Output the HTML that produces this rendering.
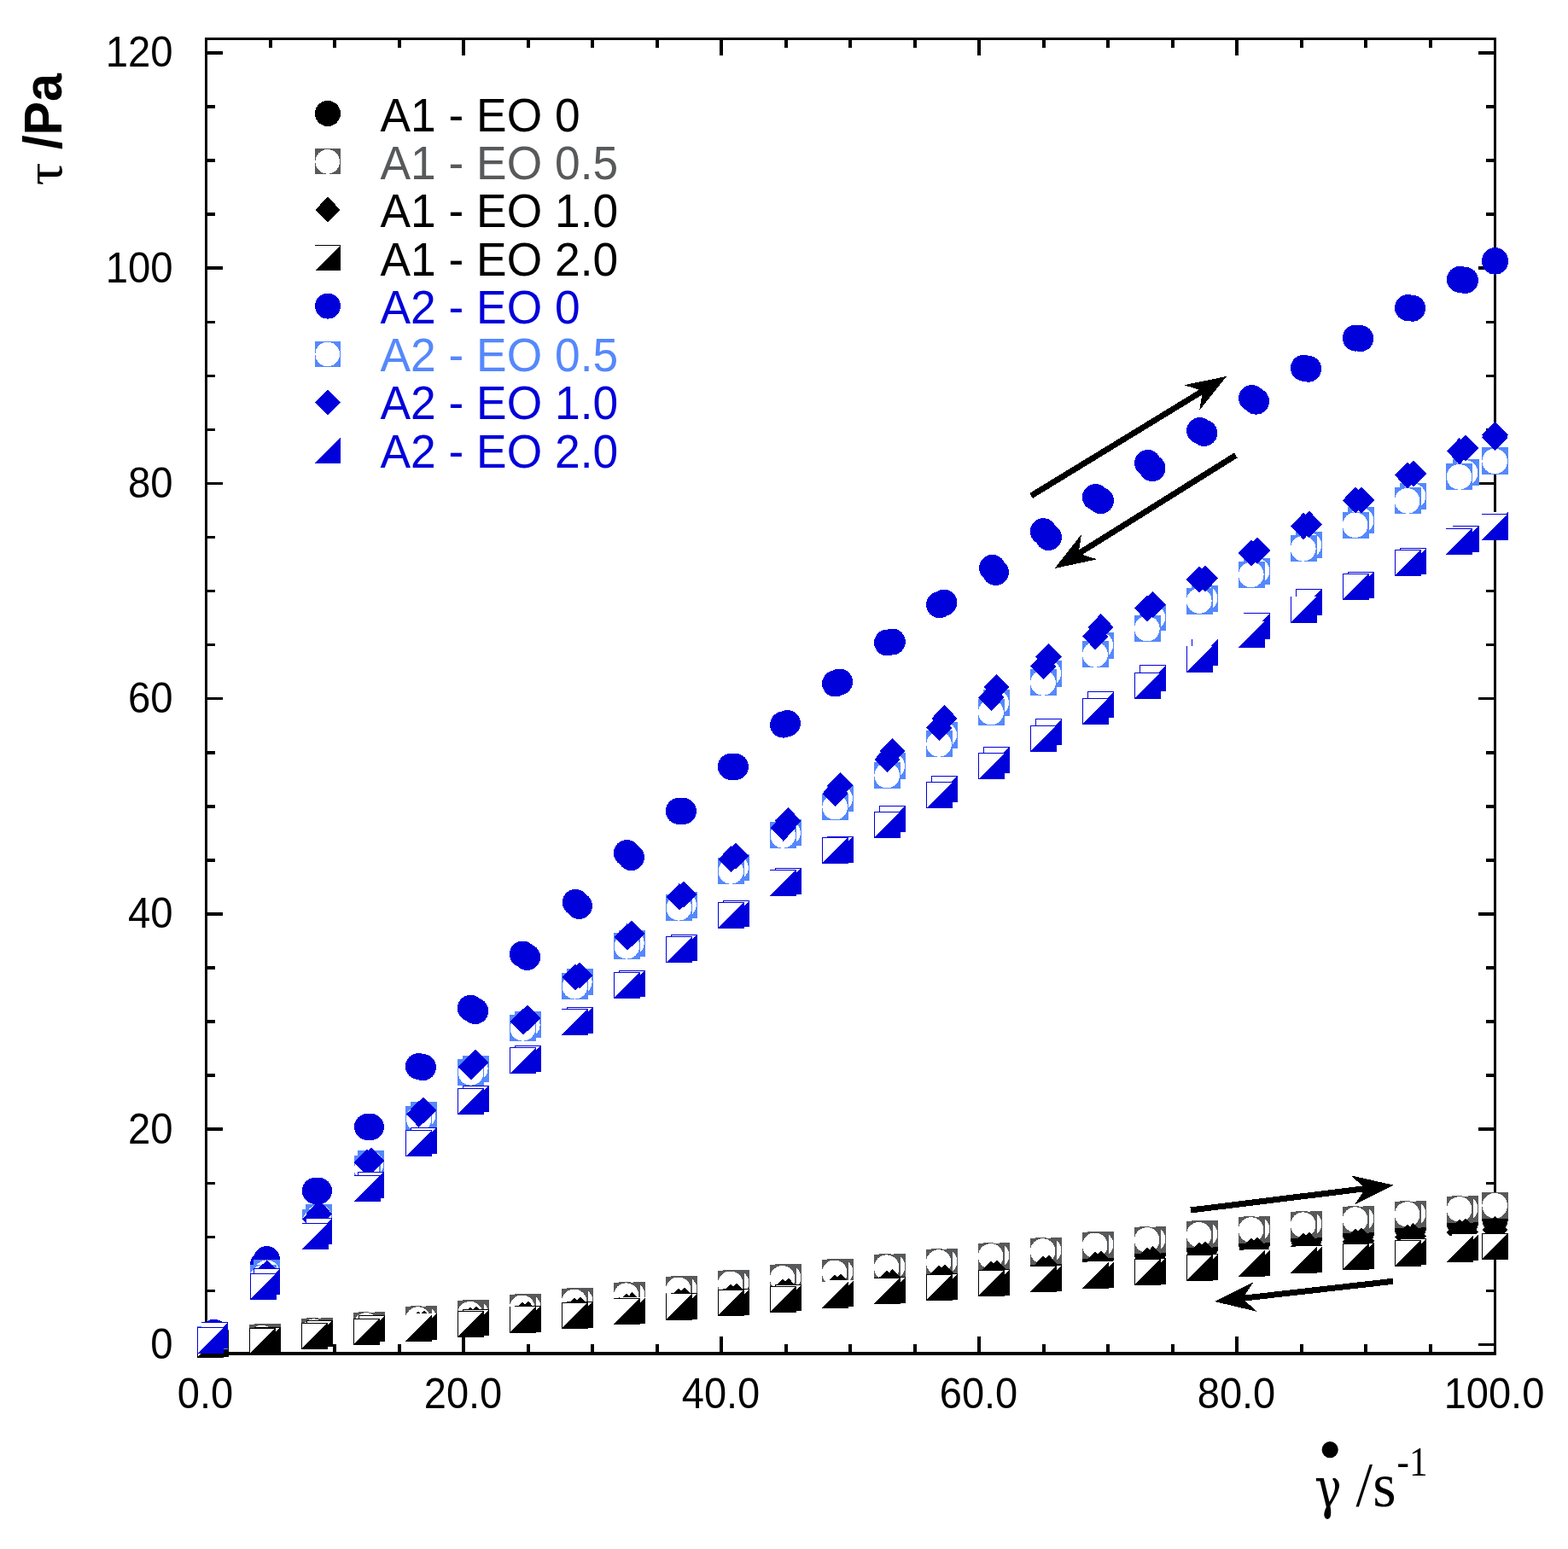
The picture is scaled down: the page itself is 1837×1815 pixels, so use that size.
<!DOCTYPE html>
<html lang="en"><head><meta charset="utf-8"><title>Flow curves</title>
<style>html,body{margin:0;padding:0;background:#fff;}body{width:1837px;height:1815px;overflow:hidden;}svg{display:block;}.t{font-family:"Liberation Sans",Arial,sans-serif;}.s{font-family:"Liberation Serif","Times New Roman",serif;}</style>
</head><body>
<svg width="1837" height="1815" viewBox="0 0 1837 1815">
<rect width="1837" height="1815" fill="#fff"/>
<g id="axes" fill="#000000" shape-rendering="crispEdges">
<rect x="240" y="44" width="1513" height="3"/>
<rect x="240" y="1584" width="1513" height="4"/>
<rect x="240" y="44" width="3" height="1544"/>
<rect x="1750" y="44" width="3" height="1544"/>
<rect x="243" y="1573.75" width="18" height="3.5"/>
<rect x="1732" y="1573.75" width="18" height="3.5"/>
<rect x="243" y="1510.68" width="9" height="3.5"/>
<rect x="1741" y="1510.68" width="9" height="3.5"/>
<rect x="243" y="1447.62" width="9" height="3.5"/>
<rect x="1741" y="1447.62" width="9" height="3.5"/>
<rect x="243" y="1384.56" width="9" height="3.5"/>
<rect x="1741" y="1384.56" width="9" height="3.5"/>
<rect x="243" y="1321.49" width="18" height="3.5"/>
<rect x="1732" y="1321.49" width="18" height="3.5"/>
<rect x="243" y="1258.42" width="9" height="3.5"/>
<rect x="1741" y="1258.42" width="9" height="3.5"/>
<rect x="243" y="1195.36" width="9" height="3.5"/>
<rect x="1741" y="1195.36" width="9" height="3.5"/>
<rect x="243" y="1132.3" width="9" height="3.5"/>
<rect x="1741" y="1132.3" width="9" height="3.5"/>
<rect x="243" y="1069.23" width="18" height="3.5"/>
<rect x="1732" y="1069.23" width="18" height="3.5"/>
<rect x="243" y="1006.16" width="9" height="3.5"/>
<rect x="1741" y="1006.16" width="9" height="3.5"/>
<rect x="243" y="943.1" width="9" height="3.5"/>
<rect x="1741" y="943.1" width="9" height="3.5"/>
<rect x="243" y="880.04" width="9" height="3.5"/>
<rect x="1741" y="880.04" width="9" height="3.5"/>
<rect x="243" y="816.97" width="18" height="3.5"/>
<rect x="1732" y="816.97" width="18" height="3.5"/>
<rect x="243" y="753.9" width="9" height="3.5"/>
<rect x="1741" y="753.9" width="9" height="3.5"/>
<rect x="243" y="690.84" width="9" height="3.5"/>
<rect x="1741" y="690.84" width="9" height="3.5"/>
<rect x="243" y="627.78" width="9" height="3.5"/>
<rect x="1741" y="627.78" width="9" height="3.5"/>
<rect x="243" y="564.71" width="18" height="3.5"/>
<rect x="1732" y="564.71" width="18" height="3.5"/>
<rect x="243" y="501.64" width="9" height="3.5"/>
<rect x="1741" y="501.64" width="9" height="3.5"/>
<rect x="243" y="438.58" width="9" height="3.5"/>
<rect x="1741" y="438.58" width="9" height="3.5"/>
<rect x="243" y="375.52" width="9" height="3.5"/>
<rect x="1741" y="375.52" width="9" height="3.5"/>
<rect x="243" y="312.45" width="18" height="3.5"/>
<rect x="1732" y="312.45" width="18" height="3.5"/>
<rect x="243" y="249.38" width="9" height="3.5"/>
<rect x="1741" y="249.38" width="9" height="3.5"/>
<rect x="243" y="186.32" width="9" height="3.5"/>
<rect x="1741" y="186.32" width="9" height="3.5"/>
<rect x="243" y="123.26" width="9" height="3.5"/>
<rect x="1741" y="123.26" width="9" height="3.5"/>
<rect x="243" y="60.19" width="18" height="3.5"/>
<rect x="1732" y="60.19" width="18" height="3.5"/>
<rect x="315" y="47" width="4" height="9"/>
<rect x="315" y="1575" width="4" height="9"/>
<rect x="390" y="47" width="4" height="9"/>
<rect x="390" y="1575" width="4" height="9"/>
<rect x="466" y="47" width="4" height="9"/>
<rect x="466" y="1575" width="4" height="9"/>
<rect x="541" y="47" width="4" height="18"/>
<rect x="541" y="1566" width="4" height="18"/>
<rect x="617" y="47" width="4" height="9"/>
<rect x="617" y="1575" width="4" height="9"/>
<rect x="692" y="47" width="4" height="9"/>
<rect x="692" y="1575" width="4" height="9"/>
<rect x="768" y="47" width="4" height="9"/>
<rect x="768" y="1575" width="4" height="9"/>
<rect x="843" y="47" width="4" height="18"/>
<rect x="843" y="1566" width="4" height="18"/>
<rect x="919" y="47" width="4" height="9"/>
<rect x="919" y="1575" width="4" height="9"/>
<rect x="994" y="47" width="4" height="9"/>
<rect x="994" y="1575" width="4" height="9"/>
<rect x="1070" y="47" width="4" height="9"/>
<rect x="1070" y="1575" width="4" height="9"/>
<rect x="1145" y="47" width="4" height="18"/>
<rect x="1145" y="1566" width="4" height="18"/>
<rect x="1221" y="47" width="4" height="9"/>
<rect x="1221" y="1575" width="4" height="9"/>
<rect x="1296" y="47" width="4" height="9"/>
<rect x="1296" y="1575" width="4" height="9"/>
<rect x="1372" y="47" width="4" height="9"/>
<rect x="1372" y="1575" width="4" height="9"/>
<rect x="1447" y="47" width="4" height="18"/>
<rect x="1447" y="1566" width="4" height="18"/>
<rect x="1523" y="47" width="4" height="9"/>
<rect x="1523" y="1575" width="4" height="9"/>
<rect x="1598" y="47" width="4" height="9"/>
<rect x="1598" y="1575" width="4" height="9"/>
<rect x="1674" y="47" width="4" height="9"/>
<rect x="1674" y="1575" width="4" height="9"/>
</g>
<g class="t" font-size="48" fill="#000000">
<text transform="translate(202.6 1591.9) scale(0.985 1.03)" text-anchor="end">0</text>
<text transform="translate(202.6 1339.6) scale(0.985 1.03)" text-anchor="end">20</text>
<text transform="translate(202.6 1087.4) scale(0.985 1.03)" text-anchor="end">40</text>
<text transform="translate(202.6 835.1) scale(0.985 1.03)" text-anchor="end">60</text>
<text transform="translate(202.6 582.9) scale(0.985 1.03)" text-anchor="end">80</text>
<text transform="translate(202.6 330.6) scale(0.985 1.03)" text-anchor="end">100</text>
<text transform="translate(202.6 78.3) scale(0.985 1.03)" text-anchor="end">120</text>
<text transform="translate(240.5 1649.6) scale(0.98 1.03)" text-anchor="middle">0.0</text>
<text transform="translate(542.5 1649.6) scale(0.98 1.03)" text-anchor="middle">20.0</text>
<text transform="translate(844.5 1649.6) scale(0.98 1.03)" text-anchor="middle">40.0</text>
<text transform="translate(1146.5 1649.6) scale(0.98 1.03)" text-anchor="middle">60.0</text>
<text transform="translate(1448.5 1649.6) scale(0.98 1.03)" text-anchor="middle">80.0</text>
<text transform="translate(1750.5 1649.6) scale(0.98 1.03)" text-anchor="middle">100.0</text>
</g>
<text id="ylabel" transform="translate(72.3 0) rotate(-90)" fill="#000000"><tspan x="-217.6" y="0.1" class="s" font-size="62.2" textLength="27.1" lengthAdjust="spacingAndGlyphs">τ</tspan><tspan x="-191.5" y="-0.1" class="t" font-weight="bold" font-size="63" textLength="105.5" lengthAdjust="spacingAndGlyphs"> /Pa</tspan></text>
<circle cx="1558.2" cy="1698.7" r="9.6" fill="#000000"/>
<text id="xlabel" fill="#000000"><tspan x="1539.9" y="1766" font-family="'DejaVu Serif','Liberation Serif',serif" font-size="65.75" textLength="31.75" lengthAdjust="spacingAndGlyphs">γ</tspan><tspan x="1571" y="1765.4" class="s" font-size="74" textLength="64.5" lengthAdjust="spacingAndGlyphs"> /s</tspan><tspan x="1636.5" y="1728.8" class="s" font-size="48" textLength="36" lengthAdjust="spacingAndGlyphs">-1</tspan></text>
<g id="legend" class="t" font-size="53">
<g shape-rendering="crispEdges"><circle cx="384" cy="133" r="15" fill="#000000"/></g>
<text transform="translate(445.4 153.6) scale(1.007 1.04)" fill="#000000">A1 - EO 0</text>
<g shape-rendering="crispEdges"><rect x="369" y="174.4" width="30" height="30" fill="#58595b"/><circle cx="383.7" cy="189.4" r="14.3" fill="#fff"/></g>
<text transform="translate(445.4 209.9) scale(1.007 1.04)" fill="#58595b">A1 - EO 0.5</text>
<g shape-rendering="crispEdges"><path d="M384 230.7L398.6 245.8L384 260.9L369.4 245.8Z" fill="#000000"/></g>
<text transform="translate(445.4 266.2) scale(1.007 1.04)" fill="#000000">A1 - EO 1.0</text>
<g shape-rendering="crispEdges"><rect x="369" y="287.2" width="30" height="30" fill="#fff"/><rect x="369" y="287.2" width="30" height="1" fill="#000000"/><path d="M399 287.2L399 317.2L369 317.2Z" fill="#000000"/></g>
<text transform="translate(445.4 322.5) scale(1.007 1.04)" fill="#000000">A1 - EO 2.0</text>
<g shape-rendering="crispEdges"><circle cx="384" cy="358.6" r="15" fill="#0000da"/></g>
<text transform="translate(445.4 378.8) scale(1.007 1.04)" fill="#0000da">A2 - EO 0</text>
<g shape-rendering="crispEdges"><rect x="369" y="400" width="30" height="30" fill="#5588fc"/><circle cx="383.7" cy="415" r="14.3" fill="#fff"/></g>
<text transform="translate(445.4 435.1) scale(1.007 1.04)" fill="#5588fc">A2 - EO 0.5</text>
<g shape-rendering="crispEdges"><path d="M384 456.4L398.6 471.5L384 486.6L369.4 471.5Z" fill="#0000da"/></g>
<text transform="translate(445.4 491.4) scale(1.007 1.04)" fill="#0000da">A2 - EO 1.0</text>
<g shape-rendering="crispEdges"><rect x="369" y="512.9" width="30" height="30" fill="#fff"/><path d="M399 512.9L399 542.9L369 542.9Z" fill="#0000da"/></g>
<text transform="translate(445.4 547.7) scale(1.007 1.04)" fill="#0000da">A2 - EO 2.0</text>
</g>
<g id="a1eo0" shape-rendering="crispEdges">
<circle cx="252.5" cy="1575" r="15.2" fill="#000000"/>
<circle cx="313.9" cy="1570.6" r="15.2" fill="#000000"/>
<circle cx="374.9" cy="1563" r="15.2" fill="#000000"/>
<circle cx="435.9" cy="1556.6" r="15.2" fill="#000000"/>
<circle cx="496.9" cy="1551" r="15.2" fill="#000000"/>
<circle cx="557.9" cy="1543.5" r="15.2" fill="#000000"/>
<circle cx="618.9" cy="1537.7" r="15.2" fill="#000000"/>
<circle cx="679.9" cy="1531.8" r="15.2" fill="#000000"/>
<circle cx="740.9" cy="1526" r="15.2" fill="#000000"/>
<circle cx="801.9" cy="1520.1" r="15.2" fill="#000000"/>
<circle cx="862.9" cy="1514.3" r="15.2" fill="#000000"/>
<circle cx="923.9" cy="1508.5" r="15.2" fill="#000000"/>
<circle cx="984.9" cy="1502.6" r="15.2" fill="#000000"/>
<circle cx="1045.9" cy="1496.8" r="15.2" fill="#000000"/>
<circle cx="1106.9" cy="1490.9" r="15.2" fill="#000000"/>
<circle cx="1167.9" cy="1485" r="15.2" fill="#000000"/>
<circle cx="1228.9" cy="1479.2" r="15.2" fill="#000000"/>
<circle cx="1289.9" cy="1473.3" r="15.2" fill="#000000"/>
<circle cx="1350.9" cy="1467.5" r="15.2" fill="#000000"/>
<circle cx="1411.9" cy="1461.6" r="15.2" fill="#000000"/>
<circle cx="1472.9" cy="1455.8" r="15.2" fill="#000000"/>
<circle cx="1533.9" cy="1450" r="15.2" fill="#000000"/>
<circle cx="1594.9" cy="1444.1" r="15.2" fill="#000000"/>
<circle cx="1655.9" cy="1438.2" r="15.2" fill="#000000"/>
<circle cx="1716.9" cy="1432.4" r="15.2" fill="#000000"/>
<circle cx="1751.5" cy="1429" r="15.2" fill="#000000"/>
<circle cx="1751.5" cy="1429" r="15.2" fill="#000000"/>
<circle cx="1710" cy="1433.4" r="15.2" fill="#000000"/>
<circle cx="1649" cy="1439.2" r="15.2" fill="#000000"/>
<circle cx="1588" cy="1445.1" r="15.2" fill="#000000"/>
<circle cx="1527" cy="1451" r="15.2" fill="#000000"/>
<circle cx="1466" cy="1456.8" r="15.2" fill="#000000"/>
<circle cx="1405" cy="1462.6" r="15.2" fill="#000000"/>
<circle cx="1344" cy="1468.5" r="15.2" fill="#000000"/>
<circle cx="1283" cy="1474.3" r="15.2" fill="#000000"/>
<circle cx="1222" cy="1480.2" r="15.2" fill="#000000"/>
<circle cx="1161" cy="1486" r="15.2" fill="#000000"/>
<circle cx="1100" cy="1491.9" r="15.2" fill="#000000"/>
<circle cx="1039" cy="1497.8" r="15.2" fill="#000000"/>
<circle cx="978" cy="1503.6" r="15.2" fill="#000000"/>
<circle cx="917" cy="1509.5" r="15.2" fill="#000000"/>
<circle cx="856" cy="1515.3" r="15.2" fill="#000000"/>
<circle cx="795" cy="1521.1" r="15.2" fill="#000000"/>
<circle cx="734" cy="1527" r="15.2" fill="#000000"/>
<circle cx="673" cy="1532.8" r="15.2" fill="#000000"/>
<circle cx="612" cy="1538.7" r="15.2" fill="#000000"/>
<circle cx="551" cy="1544.5" r="15.2" fill="#000000"/>
<circle cx="490" cy="1552" r="15.2" fill="#000000"/>
<circle cx="429" cy="1557.6" r="15.2" fill="#000000"/>
<circle cx="368" cy="1564" r="15.2" fill="#000000"/>
<circle cx="307" cy="1570.6" r="15.2" fill="#000000"/>
<circle cx="246.6" cy="1575" r="15.2" fill="#000000"/>
</g>
<g id="a1eo05" shape-rendering="crispEdges">
<rect x="237" y="1557.5" width="31" height="31" fill="#58595b"/><circle cx="252.2" cy="1573" r="14.8" fill="#fff"/>
<rect x="298.4" y="1551" width="31" height="31" fill="#58595b"/><circle cx="313.6" cy="1566.5" r="14.8" fill="#fff"/>
<rect x="359.4" y="1543.7" width="31" height="31" fill="#58595b"/><circle cx="374.6" cy="1559.2" r="14.8" fill="#fff"/>
<rect x="420.4" y="1536.5" width="31" height="31" fill="#58595b"/><circle cx="435.6" cy="1552" r="14.8" fill="#fff"/>
<rect x="481.4" y="1529.6" width="31" height="31" fill="#58595b"/><circle cx="496.6" cy="1545.1" r="14.8" fill="#fff"/>
<rect x="542.4" y="1523.2" width="31" height="31" fill="#58595b"/><circle cx="557.6" cy="1538.7" r="14.8" fill="#fff"/>
<rect x="603.4" y="1515.8" width="31" height="31" fill="#58595b"/><circle cx="618.6" cy="1531.3" r="14.8" fill="#fff"/>
<rect x="664.4" y="1508.9" width="31" height="31" fill="#58595b"/><circle cx="679.6" cy="1524.4" r="14.8" fill="#fff"/>
<rect x="725.4" y="1501.7" width="31" height="31" fill="#58595b"/><circle cx="740.6" cy="1517.2" r="14.8" fill="#fff"/>
<rect x="786.4" y="1494.8" width="31" height="31" fill="#58595b"/><circle cx="801.6" cy="1510.3" r="14.8" fill="#fff"/>
<rect x="847.4" y="1487.8" width="31" height="31" fill="#58595b"/><circle cx="862.6" cy="1503.3" r="14.8" fill="#fff"/>
<rect x="908.4" y="1481.4" width="31" height="31" fill="#58595b"/><circle cx="923.6" cy="1496.9" r="14.8" fill="#fff"/>
<rect x="969.4" y="1474.8" width="31" height="31" fill="#58595b"/><circle cx="984.6" cy="1490.3" r="14.8" fill="#fff"/>
<rect x="1030.4" y="1468.7" width="31" height="31" fill="#58595b"/><circle cx="1045.6" cy="1484.2" r="14.8" fill="#fff"/>
<rect x="1091.4" y="1462.6" width="31" height="31" fill="#58595b"/><circle cx="1106.6" cy="1478.1" r="14.8" fill="#fff"/>
<rect x="1152.4" y="1455.5" width="31" height="31" fill="#58595b"/><circle cx="1167.6" cy="1471" r="14.8" fill="#fff"/>
<rect x="1213.4" y="1449.6" width="31" height="31" fill="#58595b"/><circle cx="1228.6" cy="1465.1" r="14.8" fill="#fff"/>
<rect x="1274.4" y="1442.8" width="31" height="31" fill="#58595b"/><circle cx="1289.6" cy="1458.3" r="14.8" fill="#fff"/>
<rect x="1335.4" y="1436.5" width="31" height="31" fill="#58595b"/><circle cx="1350.6" cy="1452" r="14.8" fill="#fff"/>
<rect x="1396.4" y="1430.4" width="31" height="31" fill="#58595b"/><circle cx="1411.6" cy="1445.9" r="14.8" fill="#fff"/>
<rect x="1457.4" y="1424.6" width="31" height="31" fill="#58595b"/><circle cx="1472.6" cy="1440.1" r="14.8" fill="#fff"/>
<rect x="1518.4" y="1418.7" width="31" height="31" fill="#58595b"/><circle cx="1533.6" cy="1434.2" r="14.8" fill="#fff"/>
<rect x="1579.4" y="1412.6" width="31" height="31" fill="#58595b"/><circle cx="1594.6" cy="1428.1" r="14.8" fill="#fff"/>
<rect x="1640.4" y="1406.5" width="31" height="31" fill="#58595b"/><circle cx="1655.6" cy="1422" r="14.8" fill="#fff"/>
<rect x="1701.4" y="1400.5" width="31" height="31" fill="#58595b"/><circle cx="1716.6" cy="1416" r="14.8" fill="#fff"/>
<rect x="1736" y="1397.2" width="31" height="31" fill="#58595b"/><circle cx="1751.2" cy="1412.7" r="14.8" fill="#fff"/>
<rect x="1736" y="1397.2" width="31" height="31" fill="#58595b"/><circle cx="1751.2" cy="1412.7" r="14.8" fill="#fff"/>
<rect x="1694.5" y="1401.5" width="31" height="31" fill="#58595b"/><circle cx="1709.7" cy="1417" r="14.8" fill="#fff"/>
<rect x="1633.5" y="1407.5" width="31" height="31" fill="#58595b"/><circle cx="1648.7" cy="1423" r="14.8" fill="#fff"/>
<rect x="1572.5" y="1413.6" width="31" height="31" fill="#58595b"/><circle cx="1587.7" cy="1429.1" r="14.8" fill="#fff"/>
<rect x="1511.5" y="1419.7" width="31" height="31" fill="#58595b"/><circle cx="1526.7" cy="1435.2" r="14.8" fill="#fff"/>
<rect x="1450.5" y="1425.6" width="31" height="31" fill="#58595b"/><circle cx="1465.7" cy="1441.1" r="14.8" fill="#fff"/>
<rect x="1389.5" y="1431.4" width="31" height="31" fill="#58595b"/><circle cx="1404.7" cy="1446.9" r="14.8" fill="#fff"/>
<rect x="1328.5" y="1437.5" width="31" height="31" fill="#58595b"/><circle cx="1343.7" cy="1453" r="14.8" fill="#fff"/>
<rect x="1267.5" y="1443.8" width="31" height="31" fill="#58595b"/><circle cx="1282.7" cy="1459.3" r="14.8" fill="#fff"/>
<rect x="1206.5" y="1450.6" width="31" height="31" fill="#58595b"/><circle cx="1221.7" cy="1466.1" r="14.8" fill="#fff"/>
<rect x="1145.5" y="1456.5" width="31" height="31" fill="#58595b"/><circle cx="1160.7" cy="1472" r="14.8" fill="#fff"/>
<rect x="1084.5" y="1463.6" width="31" height="31" fill="#58595b"/><circle cx="1099.7" cy="1479.1" r="14.8" fill="#fff"/>
<rect x="1023.5" y="1469.7" width="31" height="31" fill="#58595b"/><circle cx="1038.7" cy="1485.2" r="14.8" fill="#fff"/>
<rect x="962.5" y="1475.8" width="31" height="31" fill="#58595b"/><circle cx="977.7" cy="1491.3" r="14.8" fill="#fff"/>
<rect x="901.5" y="1482.4" width="31" height="31" fill="#58595b"/><circle cx="916.7" cy="1497.9" r="14.8" fill="#fff"/>
<rect x="840.5" y="1488.8" width="31" height="31" fill="#58595b"/><circle cx="855.7" cy="1504.3" r="14.8" fill="#fff"/>
<rect x="779.5" y="1495.8" width="31" height="31" fill="#58595b"/><circle cx="794.7" cy="1511.3" r="14.8" fill="#fff"/>
<rect x="718.5" y="1502.7" width="31" height="31" fill="#58595b"/><circle cx="733.7" cy="1518.2" r="14.8" fill="#fff"/>
<rect x="657.5" y="1509.9" width="31" height="31" fill="#58595b"/><circle cx="672.7" cy="1525.4" r="14.8" fill="#fff"/>
<rect x="596.5" y="1516.8" width="31" height="31" fill="#58595b"/><circle cx="611.7" cy="1532.3" r="14.8" fill="#fff"/>
<rect x="535.5" y="1524.2" width="31" height="31" fill="#58595b"/><circle cx="550.7" cy="1539.7" r="14.8" fill="#fff"/>
<rect x="474.5" y="1530.6" width="31" height="31" fill="#58595b"/><circle cx="489.7" cy="1546.1" r="14.8" fill="#fff"/>
<rect x="413.5" y="1537.5" width="31" height="31" fill="#58595b"/><circle cx="428.7" cy="1553" r="14.8" fill="#fff"/>
<rect x="352.5" y="1544.7" width="31" height="31" fill="#58595b"/><circle cx="367.7" cy="1560.2" r="14.8" fill="#fff"/>
<rect x="291.5" y="1552" width="31" height="31" fill="#58595b"/><circle cx="306.7" cy="1567.5" r="14.8" fill="#fff"/>
<rect x="231.1" y="1558.5" width="31" height="31" fill="#58595b"/><circle cx="246.3" cy="1574" r="14.8" fill="#fff"/>
</g>
<g id="a1eo1" shape-rendering="crispEdges">
<path d="M252.5 1559.4L267.6 1575L252.5 1590.6L237.3 1575Z" fill="#000000"/>
<path d="M313.9 1555L329 1570.6L313.9 1586.2L298.8 1570.6Z" fill="#000000"/>
<path d="M374.9 1547.4L390 1563L374.9 1578.6L359.8 1563Z" fill="#000000"/>
<path d="M435.9 1541L451 1556.6L435.9 1572.2L420.8 1556.6Z" fill="#000000"/>
<path d="M496.9 1535.6L512 1551.2L496.9 1566.8L481.8 1551.2Z" fill="#000000"/>
<path d="M557.9 1530.2L573 1545.8L557.9 1561.4L542.8 1545.8Z" fill="#000000"/>
<path d="M618.9 1524.8L634 1540.4L618.9 1556L603.8 1540.4Z" fill="#000000"/>
<path d="M679.9 1519.4L695 1535L679.9 1550.6L664.8 1535Z" fill="#000000"/>
<path d="M740.9 1514L756 1529.6L740.9 1545.2L725.8 1529.6Z" fill="#000000"/>
<path d="M801.9 1508.6L817 1524.2L801.9 1539.8L786.8 1524.2Z" fill="#000000"/>
<path d="M862.9 1503.2L878 1518.8L862.9 1534.4L847.8 1518.8Z" fill="#000000"/>
<path d="M923.9 1497.8L939 1513.4L923.9 1529L908.8 1513.4Z" fill="#000000"/>
<path d="M984.9 1492.4L1000 1508L984.9 1523.6L969.8 1508Z" fill="#000000"/>
<path d="M1045.9 1487L1061.1 1502.6L1045.9 1518.2L1030.8 1502.6Z" fill="#000000"/>
<path d="M1106.9 1481.6L1122.1 1497.2L1106.9 1512.8L1091.8 1497.2Z" fill="#000000"/>
<path d="M1167.9 1476.2L1183.1 1491.8L1167.9 1507.4L1152.8 1491.8Z" fill="#000000"/>
<path d="M1228.9 1470.8L1244.1 1486.4L1228.9 1502L1213.8 1486.4Z" fill="#000000"/>
<path d="M1289.9 1465.4L1305.1 1481L1289.9 1496.6L1274.8 1481Z" fill="#000000"/>
<path d="M1350.9 1460L1366.1 1475.6L1350.9 1491.2L1335.8 1475.6Z" fill="#000000"/>
<path d="M1411.9 1454.6L1427.1 1470.2L1411.9 1485.8L1396.8 1470.2Z" fill="#000000"/>
<path d="M1472.9 1449.2L1488.1 1464.8L1472.9 1480.4L1457.8 1464.8Z" fill="#000000"/>
<path d="M1533.9 1443.8L1549.1 1459.4L1533.9 1475L1518.8 1459.4Z" fill="#000000"/>
<path d="M1594.9 1438.4L1610.1 1454L1594.9 1469.6L1579.8 1454Z" fill="#000000"/>
<path d="M1655.9 1433L1671.1 1448.6L1655.9 1464.2L1640.8 1448.6Z" fill="#000000"/>
<path d="M1716.9 1427.6L1732.1 1443.2L1716.9 1458.8L1701.8 1443.2Z" fill="#000000"/>
<path d="M1751.5 1425.4L1766.7 1441L1751.5 1456.6L1736.3 1441Z" fill="#000000"/>
<path d="M1751.5 1425.4L1766.7 1441L1751.5 1456.6L1736.3 1441Z" fill="#000000"/>
<path d="M1710 1428.6L1725.2 1444.2L1710 1459.8L1694.8 1444.2Z" fill="#000000"/>
<path d="M1649 1434L1664.2 1449.6L1649 1465.2L1633.8 1449.6Z" fill="#000000"/>
<path d="M1588 1439.4L1603.2 1455L1588 1470.6L1572.8 1455Z" fill="#000000"/>
<path d="M1527 1444.8L1542.2 1460.4L1527 1476L1511.8 1460.4Z" fill="#000000"/>
<path d="M1466 1450.2L1481.2 1465.8L1466 1481.4L1450.8 1465.8Z" fill="#000000"/>
<path d="M1405 1455.6L1420.2 1471.2L1405 1486.8L1389.8 1471.2Z" fill="#000000"/>
<path d="M1344 1461L1359.2 1476.6L1344 1492.2L1328.8 1476.6Z" fill="#000000"/>
<path d="M1283 1466.4L1298.2 1482L1283 1497.6L1267.8 1482Z" fill="#000000"/>
<path d="M1222 1471.8L1237.2 1487.4L1222 1503L1206.8 1487.4Z" fill="#000000"/>
<path d="M1161 1477.2L1176.2 1492.8L1161 1508.4L1145.8 1492.8Z" fill="#000000"/>
<path d="M1100 1482.6L1115.2 1498.2L1100 1513.8L1084.8 1498.2Z" fill="#000000"/>
<path d="M1039 1488L1054.2 1503.6L1039 1519.2L1023.9 1503.6Z" fill="#000000"/>
<path d="M978 1493.4L993.1 1509L978 1524.6L962.9 1509Z" fill="#000000"/>
<path d="M917 1498.8L932.1 1514.4L917 1530L901.9 1514.4Z" fill="#000000"/>
<path d="M856 1504.2L871.1 1519.8L856 1535.4L840.9 1519.8Z" fill="#000000"/>
<path d="M795 1509.6L810.1 1525.2L795 1540.8L779.9 1525.2Z" fill="#000000"/>
<path d="M734 1515L749.1 1530.6L734 1546.2L718.9 1530.6Z" fill="#000000"/>
<path d="M673 1520.4L688.1 1536L673 1551.6L657.9 1536Z" fill="#000000"/>
<path d="M612 1525.8L627.1 1541.4L612 1557L596.9 1541.4Z" fill="#000000"/>
<path d="M551 1531.2L566.1 1546.8L551 1562.4L535.9 1546.8Z" fill="#000000"/>
<path d="M490 1536.6L505.1 1552.2L490 1567.8L474.9 1552.2Z" fill="#000000"/>
<path d="M429 1542L444.1 1557.6L429 1573.2L413.9 1557.6Z" fill="#000000"/>
<path d="M368 1548.4L383.1 1564L368 1579.6L352.9 1564Z" fill="#000000"/>
<path d="M307 1555L322.1 1570.6L307 1586.2L291.9 1570.6Z" fill="#000000"/>
<path d="M246.6 1559.4L261.8 1575L246.6 1590.6L231.4 1575Z" fill="#000000"/>
</g>
<g id="a1eo2" shape-rendering="crispEdges">
<rect x="237" y="1558.8" width="31" height="31" fill="#fff"/><rect x="237" y="1558.8" width="31" height="1" fill="#000000"/><rect x="237" y="1558.8" width="1" height="31" fill="#000000"/><path d="M268 1558.8L268 1589.8L237 1589.8Z" fill="#000000"/>
<rect x="298.4" y="1554.5" width="31" height="31" fill="#fff"/><rect x="298.4" y="1554.5" width="31" height="1" fill="#000000"/><rect x="298.4" y="1554.5" width="1" height="31" fill="#000000"/><path d="M329.4 1554.5L329.4 1585.5L298.4 1585.5Z" fill="#000000"/>
<rect x="359.4" y="1546.5" width="31" height="31" fill="#fff"/><rect x="359.4" y="1546.5" width="31" height="1" fill="#000000"/><rect x="359.4" y="1546.5" width="1" height="31" fill="#000000"/><path d="M390.4 1546.5L390.4 1577.5L359.4 1577.5Z" fill="#000000"/>
<rect x="420.4" y="1541" width="31" height="31" fill="#fff"/><rect x="420.4" y="1541" width="31" height="1" fill="#000000"/><rect x="420.4" y="1541" width="1" height="31" fill="#000000"/><path d="M451.4 1541L451.4 1572L420.4 1572Z" fill="#000000"/>
<rect x="481.4" y="1538.5" width="31" height="31" fill="#fff"/><path d="M512.4 1538.5L512.4 1569.5L481.4 1569.5Z" fill="#000000"/>
<rect x="542.4" y="1533.8" width="31" height="31" fill="#fff"/><rect x="542.4" y="1533.8" width="31" height="1" fill="#000000"/><rect x="542.4" y="1533.8" width="1" height="31" fill="#000000"/><path d="M573.4 1533.8L573.4 1564.8L542.4 1564.8Z" fill="#000000"/>
<rect x="603.4" y="1529.5" width="31" height="31" fill="#fff"/><rect x="603.4" y="1529.5" width="31" height="1" fill="#000000"/><rect x="603.4" y="1529.5" width="1" height="31" fill="#000000"/><path d="M634.4 1529.5L634.4 1560.5L603.4 1560.5Z" fill="#000000"/>
<rect x="664.4" y="1524.5" width="31" height="31" fill="#fff"/><rect x="664.4" y="1524.5" width="31" height="1" fill="#000000"/><rect x="664.4" y="1524.5" width="1" height="31" fill="#000000"/><path d="M695.4 1524.5L695.4 1555.5L664.4 1555.5Z" fill="#000000"/>
<rect x="725.4" y="1519.7" width="31" height="31" fill="#fff"/><rect x="725.4" y="1519.7" width="1" height="31" fill="#000000"/><path d="M756.4 1519.7L756.4 1550.7L725.4 1550.7Z" fill="#000000"/>
<rect x="786.4" y="1515" width="31" height="31" fill="#fff"/><rect x="786.4" y="1515" width="31" height="1" fill="#000000"/><rect x="786.4" y="1515" width="1" height="31" fill="#000000"/><path d="M817.4 1515L817.4 1546L786.4 1546Z" fill="#000000"/>
<rect x="847.4" y="1510.3" width="31" height="31" fill="#fff"/><rect x="847.4" y="1510.3" width="31" height="1" fill="#000000"/><rect x="847.4" y="1510.3" width="1" height="31" fill="#000000"/><path d="M878.4 1510.3L878.4 1541.3L847.4 1541.3Z" fill="#000000"/>
<rect x="908.4" y="1505.1" width="31" height="31" fill="#fff"/><rect x="908.4" y="1505.1" width="31" height="1" fill="#000000"/><rect x="908.4" y="1505.1" width="1" height="31" fill="#000000"/><path d="M939.4 1505.1L939.4 1536.1L908.4 1536.1Z" fill="#000000"/>
<rect x="969.4" y="1500.3" width="31" height="31" fill="#fff"/><path d="M1000.4 1500.3L1000.4 1531.3L969.4 1531.3Z" fill="#000000"/>
<rect x="1030.4" y="1496.2" width="31" height="31" fill="#fff"/><rect x="1030.4" y="1496.2" width="31" height="1" fill="#000000"/><rect x="1030.4" y="1496.2" width="1" height="31" fill="#000000"/><path d="M1061.4 1496.2L1061.4 1527.2L1030.4 1527.2Z" fill="#000000"/>
<rect x="1091.4" y="1491.8" width="31" height="31" fill="#fff"/><rect x="1091.4" y="1491.8" width="31" height="1" fill="#000000"/><rect x="1091.4" y="1491.8" width="1" height="31" fill="#000000"/><path d="M1122.4 1491.8L1122.4 1522.8L1091.4 1522.8Z" fill="#000000"/>
<rect x="1152.4" y="1487.3" width="31" height="31" fill="#fff"/><rect x="1152.4" y="1487.3" width="31" height="1" fill="#000000"/><rect x="1152.4" y="1487.3" width="1" height="31" fill="#000000"/><path d="M1183.4 1487.3L1183.4 1518.3L1152.4 1518.3Z" fill="#000000"/>
<rect x="1213.4" y="1482.4" width="31" height="31" fill="#fff"/><rect x="1213.4" y="1482.4" width="31" height="1" fill="#000000"/><rect x="1213.4" y="1482.4" width="1" height="31" fill="#000000"/><path d="M1244.4 1482.4L1244.4 1513.4L1213.4 1513.4Z" fill="#000000"/>
<rect x="1274.4" y="1478.1" width="31" height="31" fill="#fff"/><path d="M1305.4 1478.1L1305.4 1509.1L1274.4 1509.1Z" fill="#000000"/>
<rect x="1335.4" y="1473.5" width="31" height="31" fill="#fff"/><rect x="1335.4" y="1473.5" width="31" height="1" fill="#000000"/><rect x="1335.4" y="1473.5" width="1" height="31" fill="#000000"/><path d="M1366.4 1473.5L1366.4 1504.5L1335.4 1504.5Z" fill="#000000"/>
<rect x="1396.4" y="1469.1" width="31" height="31" fill="#fff"/><rect x="1396.4" y="1469.1" width="31" height="1" fill="#000000"/><rect x="1396.4" y="1469.1" width="1" height="31" fill="#000000"/><path d="M1427.4 1469.1L1427.4 1500.1L1396.4 1500.1Z" fill="#000000"/>
<rect x="1457.4" y="1464.3" width="31" height="31" fill="#fff"/><path d="M1488.4 1464.3L1488.4 1495.3L1457.4 1495.3Z" fill="#000000"/>
<rect x="1518.4" y="1460.3" width="31" height="31" fill="#fff"/><path d="M1549.4 1460.3L1549.4 1491.3L1518.4 1491.3Z" fill="#000000"/>
<rect x="1579.4" y="1455.5" width="31" height="31" fill="#fff"/><rect x="1579.4" y="1455.5" width="31" height="1" fill="#000000"/><rect x="1579.4" y="1455.5" width="1" height="31" fill="#000000"/><path d="M1610.4 1455.5L1610.4 1486.5L1579.4 1486.5Z" fill="#000000"/>
<rect x="1640.4" y="1450.9" width="31" height="31" fill="#fff"/><rect x="1640.4" y="1450.9" width="31" height="1" fill="#000000"/><rect x="1640.4" y="1450.9" width="1" height="31" fill="#000000"/><path d="M1671.4 1450.9L1671.4 1481.9L1640.4 1481.9Z" fill="#000000"/>
<rect x="1701.4" y="1446.4" width="31" height="31" fill="#fff"/><path d="M1732.4 1446.4L1732.4 1477.4L1701.4 1477.4Z" fill="#000000"/>
<rect x="1736" y="1444.9" width="31" height="31" fill="#fff"/><rect x="1736" y="1444.9" width="31" height="1" fill="#000000"/><rect x="1736" y="1444.9" width="1" height="31" fill="#000000"/><path d="M1767 1444.9L1767 1475.9L1736 1475.9Z" fill="#000000"/>
<rect x="1736" y="1444.9" width="31" height="31" fill="#fff"/><rect x="1736" y="1444.9" width="31" height="1" fill="#000000"/><rect x="1736" y="1444.9" width="1" height="31" fill="#000000"/><path d="M1767 1444.9L1767 1475.9L1736 1475.9Z" fill="#000000"/>
<rect x="1694.5" y="1448.2" width="31" height="31" fill="#fff"/><path d="M1725.5 1448.2L1725.5 1479.2L1694.5 1479.2Z" fill="#000000"/>
<rect x="1633.5" y="1452.5" width="31" height="31" fill="#fff"/><rect x="1633.5" y="1452.5" width="31" height="1" fill="#000000"/><rect x="1633.5" y="1452.5" width="1" height="31" fill="#000000"/><path d="M1664.5 1452.5L1664.5 1483.5L1633.5 1483.5Z" fill="#000000"/>
<rect x="1572.5" y="1457" width="31" height="31" fill="#fff"/><rect x="1572.5" y="1457" width="31" height="1" fill="#000000"/><rect x="1572.5" y="1457" width="1" height="31" fill="#000000"/><path d="M1603.5 1457L1603.5 1488L1572.5 1488Z" fill="#000000"/>
<rect x="1511.5" y="1460.5" width="31" height="31" fill="#fff"/><path d="M1542.5 1460.5L1542.5 1491.5L1511.5 1491.5Z" fill="#000000"/>
<rect x="1450.5" y="1465" width="31" height="31" fill="#fff"/><path d="M1481.5 1465L1481.5 1496L1450.5 1496Z" fill="#000000"/>
<rect x="1389.5" y="1469.9" width="31" height="31" fill="#fff"/><rect x="1389.5" y="1469.9" width="31" height="1" fill="#000000"/><rect x="1389.5" y="1469.9" width="1" height="31" fill="#000000"/><path d="M1420.5 1469.9L1420.5 1500.9L1389.5 1500.9Z" fill="#000000"/>
<rect x="1328.5" y="1474.9" width="31" height="31" fill="#fff"/><rect x="1328.5" y="1474.9" width="31" height="1" fill="#000000"/><rect x="1328.5" y="1474.9" width="1" height="31" fill="#000000"/><path d="M1359.5 1474.9L1359.5 1505.9L1328.5 1505.9Z" fill="#000000"/>
<rect x="1267.5" y="1479.4" width="31" height="31" fill="#fff"/><path d="M1298.5 1479.4L1298.5 1510.4L1267.5 1510.4Z" fill="#000000"/>
<rect x="1206.5" y="1483.3" width="31" height="31" fill="#fff"/><rect x="1206.5" y="1483.3" width="31" height="1" fill="#000000"/><path d="M1237.5 1483.3L1237.5 1514.3L1206.5 1514.3Z" fill="#000000"/>
<rect x="1145.5" y="1488.1" width="31" height="31" fill="#fff"/><rect x="1145.5" y="1488.1" width="31" height="1" fill="#000000"/><rect x="1145.5" y="1488.1" width="1" height="31" fill="#000000"/><path d="M1176.5 1488.1L1176.5 1519.1L1145.5 1519.1Z" fill="#000000"/>
<rect x="1084.5" y="1492.5" width="31" height="31" fill="#fff"/><rect x="1084.5" y="1492.5" width="31" height="1" fill="#000000"/><rect x="1084.5" y="1492.5" width="1" height="31" fill="#000000"/><path d="M1115.5 1492.5L1115.5 1523.5L1084.5 1523.5Z" fill="#000000"/>
<rect x="1023.5" y="1497.2" width="31" height="31" fill="#fff"/><rect x="1023.5" y="1497.2" width="31" height="1" fill="#000000"/><path d="M1054.5 1497.2L1054.5 1528.2L1023.5 1528.2Z" fill="#000000"/>
<rect x="962.5" y="1502.3" width="31" height="31" fill="#fff"/><path d="M993.5 1502.3L993.5 1533.3L962.5 1533.3Z" fill="#000000"/>
<rect x="901.5" y="1506.5" width="31" height="31" fill="#fff"/><rect x="901.5" y="1506.5" width="31" height="1" fill="#000000"/><rect x="901.5" y="1506.5" width="1" height="31" fill="#000000"/><path d="M932.5 1506.5L932.5 1537.5L901.5 1537.5Z" fill="#000000"/>
<rect x="840.5" y="1511.1" width="31" height="31" fill="#fff"/><rect x="840.5" y="1511.1" width="31" height="1" fill="#000000"/><rect x="840.5" y="1511.1" width="1" height="31" fill="#000000"/><path d="M871.5 1511.1L871.5 1542.1L840.5 1542.1Z" fill="#000000"/>
<rect x="779.5" y="1516.3" width="31" height="31" fill="#fff"/><rect x="779.5" y="1516.3" width="1" height="31" fill="#000000"/><path d="M810.5 1516.3L810.5 1547.3L779.5 1547.3Z" fill="#000000"/>
<rect x="718.5" y="1520.5" width="31" height="31" fill="#fff"/><rect x="718.5" y="1520.5" width="31" height="1" fill="#000000"/><path d="M749.5 1520.5L749.5 1551.5L718.5 1551.5Z" fill="#000000"/>
<rect x="657.5" y="1526.1" width="31" height="31" fill="#fff"/><rect x="657.5" y="1526.1" width="31" height="1" fill="#000000"/><rect x="657.5" y="1526.1" width="1" height="31" fill="#000000"/><path d="M688.5 1526.1L688.5 1557.1L657.5 1557.1Z" fill="#000000"/>
<rect x="596.5" y="1530.5" width="31" height="31" fill="#fff"/><rect x="596.5" y="1530.5" width="1" height="31" fill="#000000"/><path d="M627.5 1530.5L627.5 1561.5L596.5 1561.5Z" fill="#000000"/>
<rect x="535.5" y="1535.5" width="31" height="31" fill="#fff"/><rect x="535.5" y="1535.5" width="31" height="1" fill="#000000"/><rect x="535.5" y="1535.5" width="1" height="31" fill="#000000"/><path d="M566.5 1535.5L566.5 1566.5L535.5 1566.5Z" fill="#000000"/>
<rect x="474.5" y="1540.5" width="31" height="31" fill="#fff"/><path d="M505.5 1540.5L505.5 1571.5L474.5 1571.5Z" fill="#000000"/>
<rect x="413.5" y="1544.5" width="31" height="31" fill="#fff"/><rect x="413.5" y="1544.5" width="31" height="1" fill="#000000"/><rect x="413.5" y="1544.5" width="1" height="31" fill="#000000"/><path d="M444.5 1544.5L444.5 1575.5L413.5 1575.5Z" fill="#000000"/>
<rect x="352.5" y="1550.2" width="31" height="31" fill="#fff"/><rect x="352.5" y="1550.2" width="31" height="1" fill="#000000"/><rect x="352.5" y="1550.2" width="1" height="31" fill="#000000"/><path d="M383.5 1550.2L383.5 1581.2L352.5 1581.2Z" fill="#000000"/>
<rect x="291.5" y="1555.9" width="31" height="31" fill="#fff"/><rect x="291.5" y="1555.9" width="31" height="1" fill="#000000"/><rect x="291.5" y="1555.9" width="1" height="31" fill="#000000"/><path d="M322.5 1555.9L322.5 1586.9L291.5 1586.9Z" fill="#000000"/>
<rect x="231.1" y="1559.8" width="31" height="31" fill="#fff"/><rect x="231.1" y="1559.8" width="31" height="1" fill="#000000"/><rect x="231.1" y="1559.8" width="1" height="31" fill="#000000"/><path d="M262.1 1559.8L262.1 1590.8L231.1 1590.8Z" fill="#000000"/>
</g>
<g id="a2eo0" shape-rendering="crispEdges">
<circle cx="250.9" cy="1561.2" r="15.5" fill="#0000da"/>
<circle cx="312.6" cy="1475.7" r="15.5" fill="#0000da"/>
<circle cx="373.6" cy="1395.4" r="15.5" fill="#0000da"/>
<circle cx="434.4" cy="1320.4" r="15.5" fill="#0000da"/>
<circle cx="495.6" cy="1250.6" r="15.5" fill="#0000da"/>
<circle cx="556.7" cy="1184.6" r="15.5" fill="#0000da"/>
<circle cx="617.6" cy="1121.5" r="15.5" fill="#0000da"/>
<circle cx="678.5" cy="1061.3" r="15.5" fill="#0000da"/>
<circle cx="739.5" cy="1004.6" r="15.5" fill="#0000da"/>
<circle cx="800.4" cy="950.4" r="15.5" fill="#0000da"/>
<circle cx="861.5" cy="898.4" r="15.5" fill="#0000da"/>
<circle cx="922.5" cy="847.6" r="15.5" fill="#0000da"/>
<circle cx="983.5" cy="799" r="15.5" fill="#0000da"/>
<circle cx="1045.3" cy="752" r="15.5" fill="#0000da"/>
<circle cx="1105.8" cy="706.2" r="15.5" fill="#0000da"/>
<circle cx="1166.4" cy="670.5" r="15.5" fill="#0000da"/>
<circle cx="1228.4" cy="629.6" r="15.5" fill="#0000da"/>
<circle cx="1289.5" cy="586.7" r="15.5" fill="#0000da"/>
<circle cx="1350" cy="548.6" r="15.5" fill="#0000da"/>
<circle cx="1410.8" cy="507.4" r="15.5" fill="#0000da"/>
<circle cx="1471.5" cy="470.2" r="15.5" fill="#0000da"/>
<circle cx="1532.6" cy="432.2" r="15.5" fill="#0000da"/>
<circle cx="1593.7" cy="396.6" r="15.5" fill="#0000da"/>
<circle cx="1654.6" cy="361.2" r="15.5" fill="#0000da"/>
<circle cx="1716.5" cy="328.4" r="15.5" fill="#0000da"/>
<circle cx="1751.5" cy="306.2" r="15.5" fill="#0000da"/>
<circle cx="1751.5" cy="305.6" r="15.5" fill="#0000da"/>
<circle cx="1710.4" cy="327.4" r="15.5" fill="#0000da"/>
<circle cx="1649.5" cy="360.7" r="15.5" fill="#0000da"/>
<circle cx="1588.4" cy="396.1" r="15.5" fill="#0000da"/>
<circle cx="1527.5" cy="431.2" r="15.5" fill="#0000da"/>
<circle cx="1466.6" cy="466.5" r="15.5" fill="#0000da"/>
<circle cx="1405.7" cy="504.7" r="15.5" fill="#0000da"/>
<circle cx="1344.7" cy="542.5" r="15.5" fill="#0000da"/>
<circle cx="1283.4" cy="582.6" r="15.5" fill="#0000da"/>
<circle cx="1222.3" cy="622.7" r="15.5" fill="#0000da"/>
<circle cx="1162.6" cy="665.4" r="15.5" fill="#0000da"/>
<circle cx="1100.6" cy="708.7" r="15.5" fill="#0000da"/>
<circle cx="1039.6" cy="753" r="15.5" fill="#0000da"/>
<circle cx="978.6" cy="801" r="15.5" fill="#0000da"/>
<circle cx="917.6" cy="849.1" r="15.5" fill="#0000da"/>
<circle cx="856.4" cy="898.3" r="15.5" fill="#0000da"/>
<circle cx="795.3" cy="950.4" r="15.5" fill="#0000da"/>
<circle cx="734.4" cy="999.5" r="15.5" fill="#0000da"/>
<circle cx="674.3" cy="1057.4" r="15.5" fill="#0000da"/>
<circle cx="612.4" cy="1118.1" r="15.5" fill="#0000da"/>
<circle cx="551.3" cy="1181.3" r="15.5" fill="#0000da"/>
<circle cx="490.4" cy="1249.5" r="15.5" fill="#0000da"/>
<circle cx="430.5" cy="1320.4" r="15.5" fill="#0000da"/>
<circle cx="369.4" cy="1395.3" r="15.5" fill="#0000da"/>
<circle cx="308.4" cy="1482" r="15.5" fill="#0000da"/>
<circle cx="250.9" cy="1564.2" r="15.5" fill="#0000da"/>
</g>
<g id="a2eo05" shape-rendering="crispEdges">
<rect x="236.1" y="1550.1" width="31" height="31" fill="#5588fc"/><circle cx="251.3" cy="1565.6" r="14.8" fill="#fff"/>
<rect x="297.4" y="1475.7" width="31" height="31" fill="#5588fc"/><circle cx="312.6" cy="1491.2" r="14.8" fill="#fff"/>
<rect x="358.4" y="1410.7" width="31" height="31" fill="#5588fc"/><circle cx="373.6" cy="1426.2" r="14.8" fill="#fff"/>
<rect x="419.4" y="1348.4" width="31" height="31" fill="#5588fc"/><circle cx="434.6" cy="1363.9" r="14.8" fill="#fff"/>
<rect x="480.5" y="1291.3" width="31" height="31" fill="#5588fc"/><circle cx="495.7" cy="1306.8" r="14.8" fill="#fff"/>
<rect x="541.5" y="1236.5" width="31" height="31" fill="#5588fc"/><circle cx="556.8" cy="1252" r="14.8" fill="#fff"/>
<rect x="602.6" y="1185.4" width="31" height="31" fill="#5588fc"/><circle cx="617.8" cy="1200.9" r="14.8" fill="#fff"/>
<rect x="663.6" y="1135" width="31" height="31" fill="#5588fc"/><circle cx="678.9" cy="1150.5" r="14.8" fill="#fff"/>
<rect x="724.7" y="1089.5" width="31" height="31" fill="#5588fc"/><circle cx="739.9" cy="1105" r="14.8" fill="#fff"/>
<rect x="785.8" y="1044.7" width="31" height="31" fill="#5588fc"/><circle cx="801" cy="1060.2" r="14.8" fill="#fff"/>
<rect x="846.8" y="1001.1" width="31" height="31" fill="#5588fc"/><circle cx="862" cy="1016.6" r="14.8" fill="#fff"/>
<rect x="907.8" y="960.4" width="31" height="31" fill="#5588fc"/><circle cx="923" cy="975.9" r="14.8" fill="#fff"/>
<rect x="968.9" y="920.3" width="31" height="31" fill="#5588fc"/><circle cx="984.1" cy="935.8" r="14.8" fill="#fff"/>
<rect x="1030" y="882.2" width="31" height="31" fill="#5588fc"/><circle cx="1045.2" cy="897.7" r="14.8" fill="#fff"/>
<rect x="1091" y="845.5" width="31" height="31" fill="#5588fc"/><circle cx="1106.2" cy="861" r="14.8" fill="#fff"/>
<rect x="1152" y="808.2" width="31" height="31" fill="#5588fc"/><circle cx="1167.2" cy="823.7" r="14.8" fill="#fff"/>
<rect x="1213.1" y="773.5" width="31" height="31" fill="#5588fc"/><circle cx="1228.3" cy="789" r="14.8" fill="#fff"/>
<rect x="1274.1" y="740.5" width="31" height="31" fill="#5588fc"/><circle cx="1289.3" cy="756" r="14.8" fill="#fff"/>
<rect x="1335.2" y="708" width="31" height="31" fill="#5588fc"/><circle cx="1350.4" cy="723.5" r="14.8" fill="#fff"/>
<rect x="1396.2" y="685.5" width="31" height="31" fill="#5588fc"/><circle cx="1411.5" cy="701" r="14.8" fill="#fff"/>
<rect x="1457.3" y="653.5" width="31" height="31" fill="#5588fc"/><circle cx="1472.5" cy="669" r="14.8" fill="#fff"/>
<rect x="1518.3" y="623.3" width="31" height="31" fill="#5588fc"/><circle cx="1533.5" cy="638.8" r="14.8" fill="#fff"/>
<rect x="1579.4" y="594.3" width="31" height="31" fill="#5588fc"/><circle cx="1594.6" cy="609.8" r="14.8" fill="#fff"/>
<rect x="1640.4" y="565.9" width="31" height="31" fill="#5588fc"/><circle cx="1655.6" cy="581.4" r="14.8" fill="#fff"/>
<rect x="1701.5" y="538.4" width="31" height="31" fill="#5588fc"/><circle cx="1716.7" cy="553.9" r="14.8" fill="#fff"/>
<rect x="1736" y="524" width="31" height="31" fill="#5588fc"/><circle cx="1751.2" cy="539.5" r="14.8" fill="#fff"/>
<rect x="1736" y="524.9" width="31" height="31" fill="#5588fc"/><circle cx="1751.2" cy="540.4" r="14.8" fill="#fff"/>
<rect x="1694.4" y="543.4" width="31" height="31" fill="#5588fc"/><circle cx="1709.6" cy="558.9" r="14.8" fill="#fff"/>
<rect x="1633.5" y="571.4" width="31" height="31" fill="#5588fc"/><circle cx="1648.7" cy="586.9" r="14.8" fill="#fff"/>
<rect x="1572.5" y="599.7" width="31" height="31" fill="#5588fc"/><circle cx="1587.7" cy="615.2" r="14.8" fill="#fff"/>
<rect x="1511.5" y="627.3" width="31" height="31" fill="#5588fc"/><circle cx="1526.8" cy="642.8" r="14.8" fill="#fff"/>
<rect x="1450.6" y="657.9" width="31" height="31" fill="#5588fc"/><circle cx="1465.8" cy="673.4" r="14.8" fill="#fff"/>
<rect x="1389.6" y="688.5" width="31" height="31" fill="#5588fc"/><circle cx="1404.8" cy="704" r="14.8" fill="#fff"/>
<rect x="1328.7" y="721.1" width="31" height="31" fill="#5588fc"/><circle cx="1343.9" cy="736.6" r="14.8" fill="#fff"/>
<rect x="1267.8" y="751.4" width="31" height="31" fill="#5588fc"/><circle cx="1283" cy="766.9" r="14.8" fill="#fff"/>
<rect x="1206.8" y="784.4" width="31" height="31" fill="#5588fc"/><circle cx="1222" cy="799.9" r="14.8" fill="#fff"/>
<rect x="1145.8" y="819.1" width="31" height="31" fill="#5588fc"/><circle cx="1161" cy="834.6" r="14.8" fill="#fff"/>
<rect x="1084.9" y="856.4" width="31" height="31" fill="#5588fc"/><circle cx="1100.1" cy="871.9" r="14.8" fill="#fff"/>
<rect x="1024" y="893.1" width="31" height="31" fill="#5588fc"/><circle cx="1039.2" cy="908.6" r="14.8" fill="#fff"/>
<rect x="963" y="930.2" width="31" height="31" fill="#5588fc"/><circle cx="978.2" cy="945.7" r="14.8" fill="#fff"/>
<rect x="902.1" y="963.4" width="31" height="31" fill="#5588fc"/><circle cx="917.3" cy="978.9" r="14.8" fill="#fff"/>
<rect x="841.1" y="1005.4" width="31" height="31" fill="#5588fc"/><circle cx="856.3" cy="1020.9" r="14.8" fill="#fff"/>
<rect x="780.2" y="1048.3" width="31" height="31" fill="#5588fc"/><circle cx="795.4" cy="1063.8" r="14.8" fill="#fff"/>
<rect x="719.2" y="1093.3" width="31" height="31" fill="#5588fc"/><circle cx="734.4" cy="1108.8" r="14.8" fill="#fff"/>
<rect x="658.2" y="1140.3" width="31" height="31" fill="#5588fc"/><circle cx="673.5" cy="1155.8" r="14.8" fill="#fff"/>
<rect x="597.3" y="1189.4" width="31" height="31" fill="#5588fc"/><circle cx="612.5" cy="1204.9" r="14.8" fill="#fff"/>
<rect x="536.4" y="1241.4" width="31" height="31" fill="#5588fc"/><circle cx="551.6" cy="1256.9" r="14.8" fill="#fff"/>
<rect x="475.4" y="1295.5" width="31" height="31" fill="#5588fc"/><circle cx="490.6" cy="1311" r="14.8" fill="#fff"/>
<rect x="414.5" y="1354.3" width="31" height="31" fill="#5588fc"/><circle cx="429.7" cy="1369.8" r="14.8" fill="#fff"/>
<rect x="353.5" y="1416.7" width="31" height="31" fill="#5588fc"/><circle cx="368.7" cy="1432.2" r="14.8" fill="#fff"/>
<rect x="292.6" y="1481.5" width="31" height="31" fill="#5588fc"/><circle cx="307.8" cy="1497" r="14.8" fill="#fff"/>
<rect x="231.1" y="1554.1" width="31" height="31" fill="#5588fc"/><circle cx="246.3" cy="1569.6" r="14.8" fill="#fff"/>
</g>
<g id="a2eo1" shape-rendering="crispEdges">
<path d="M251.6 1550.4L266.8 1566L251.6 1581.6L236.4 1566Z" fill="#0000da"/>
<path d="M312.9 1476.1L328 1491.7L312.9 1507.3L297.7 1491.7Z" fill="#0000da"/>
<path d="M373.9 1406.5L389 1422.1L373.9 1437.7L358.8 1422.1Z" fill="#0000da"/>
<path d="M434.9 1344.5L450.1 1360.1L434.9 1375.7L419.8 1360.1Z" fill="#0000da"/>
<path d="M496 1285.4L511.1 1301L496 1316.6L480.9 1301Z" fill="#0000da"/>
<path d="M557 1229.3L572.2 1244.9L557 1260.5L541.9 1244.9Z" fill="#0000da"/>
<path d="M618.1 1177.3L633.2 1192.9L618.1 1208.5L602.9 1192.9Z" fill="#0000da"/>
<path d="M679.1 1127.6L694.3 1143.2L679.1 1158.8L664 1143.2Z" fill="#0000da"/>
<path d="M740.2 1078.6L755.4 1094.2L740.2 1109.8L725.1 1094.2Z" fill="#0000da"/>
<path d="M801.2 1032.4L816.4 1048L801.2 1063.6L786.1 1048Z" fill="#0000da"/>
<path d="M862.3 987.3L877.4 1002.9L862.3 1018.5L847.1 1002.9Z" fill="#0000da"/>
<path d="M923.3 946.1L938.5 961.7L923.3 977.3L908.2 961.7Z" fill="#0000da"/>
<path d="M984.4 904.6L999.5 920.2L984.4 935.8L969.2 920.2Z" fill="#0000da"/>
<path d="M1045.5 864.5L1060.6 880.1L1045.5 895.7L1030.3 880.1Z" fill="#0000da"/>
<path d="M1106.5 826.2L1121.7 841.8L1106.5 857.4L1091.3 841.8Z" fill="#0000da"/>
<path d="M1167.5 789.5L1182.7 805.1L1167.5 820.7L1152.4 805.1Z" fill="#0000da"/>
<path d="M1228.6 753.8L1243.8 769.4L1228.6 785L1213.4 769.4Z" fill="#0000da"/>
<path d="M1289.6 719.3L1304.8 734.9L1289.6 750.5L1274.5 734.9Z" fill="#0000da"/>
<path d="M1350.7 692.9L1365.8 708.5L1350.7 724.1L1335.5 708.5Z" fill="#0000da"/>
<path d="M1411.8 662.3L1426.9 677.9L1411.8 693.5L1396.6 677.9Z" fill="#0000da"/>
<path d="M1472.8 629.4L1488 645L1472.8 660.6L1457.6 645Z" fill="#0000da"/>
<path d="M1533.8 598.7L1549 614.3L1533.8 629.9L1518.7 614.3Z" fill="#0000da"/>
<path d="M1594.9 570.4L1610 586L1594.9 601.6L1579.7 586Z" fill="#0000da"/>
<path d="M1655.9 539.3L1671.1 554.9L1655.9 570.5L1640.8 554.9Z" fill="#0000da"/>
<path d="M1717 509.3L1732.1 524.9L1717 540.5L1701.8 524.9Z" fill="#0000da"/>
<path d="M1751.5 494L1766.7 509.6L1751.5 525.2L1736.3 509.6Z" fill="#0000da"/>
<path d="M1751.5 496.7L1766.7 512.3L1751.5 527.9L1736.3 512.3Z" fill="#0000da"/>
<path d="M1709.9 513L1725.1 528.6L1709.9 544.2L1694.8 528.6Z" fill="#0000da"/>
<path d="M1649 541.1L1664.1 556.7L1649 572.3L1633.8 556.7Z" fill="#0000da"/>
<path d="M1588 570.7L1603.2 586.3L1588 601.9L1572.8 586.3Z" fill="#0000da"/>
<path d="M1527 600.9L1542.2 616.5L1527 632.1L1511.9 616.5Z" fill="#0000da"/>
<path d="M1466.1 632.3L1481.2 647.9L1466.1 663.5L1450.9 647.9Z" fill="#0000da"/>
<path d="M1405.1 663.4L1420.3 679L1405.1 694.6L1390 679Z" fill="#0000da"/>
<path d="M1344.2 697.2L1359.4 712.8L1344.2 728.4L1329 712.8Z" fill="#0000da"/>
<path d="M1283.2 730.2L1298.4 745.8L1283.2 761.4L1268.1 745.8Z" fill="#0000da"/>
<path d="M1222.3 765.1L1237.5 780.7L1222.3 796.3L1207.1 780.7Z" fill="#0000da"/>
<path d="M1161.3 801.8L1176.5 817.4L1161.3 833L1146.2 817.4Z" fill="#0000da"/>
<path d="M1100.4 837.1L1115.6 852.7L1100.4 868.3L1085.2 852.7Z" fill="#0000da"/>
<path d="M1039.5 874.2L1054.6 889.8L1039.5 905.4L1024.3 889.8Z" fill="#0000da"/>
<path d="M978.5 914.1L993.7 929.7L978.5 945.3L963.4 929.7Z" fill="#0000da"/>
<path d="M917.6 954.4L932.7 970L917.6 985.6L902.4 970Z" fill="#0000da"/>
<path d="M856.6 991.1L871.8 1006.7L856.6 1022.3L841.5 1006.7Z" fill="#0000da"/>
<path d="M795.7 1035.3L810.8 1050.9L795.7 1066.5L780.5 1050.9Z" fill="#0000da"/>
<path d="M734.7 1082.3L749.9 1097.9L734.7 1113.5L719.6 1097.9Z" fill="#0000da"/>
<path d="M673.8 1129.3L688.9 1144.9L673.8 1160.5L658.6 1144.9Z" fill="#0000da"/>
<path d="M612.8 1181.4L628 1197L612.8 1212.6L597.7 1197Z" fill="#0000da"/>
<path d="M551.9 1234.2L567 1249.8L551.9 1265.4L536.7 1249.8Z" fill="#0000da"/>
<path d="M490.9 1289.8L506 1305.4L490.9 1321L475.8 1305.4Z" fill="#0000da"/>
<path d="M430 1346.4L445.1 1362L430 1377.6L414.8 1362Z" fill="#0000da"/>
<path d="M369 1412.8L384.1 1428.4L369 1444L353.9 1428.4Z" fill="#0000da"/>
<path d="M308.1 1480.4L323.2 1496L308.1 1511.6L292.9 1496Z" fill="#0000da"/>
<path d="M246.6 1553.4L261.8 1569L246.6 1584.6L231.4 1569Z" fill="#0000da"/>
</g>
<g id="a2eo2" shape-rendering="crispEdges">
<rect x="236.1" y="1549.3" width="31" height="31" fill="#fff"/><rect x="236.1" y="1549.3" width="31" height="1" fill="#0000da"/><path d="M267.1 1549.3L267.1 1580.3L236.1 1580.3Z" fill="#0000da"/>
<rect x="297.4" y="1486.1" width="31" height="31" fill="#fff"/><rect x="297.4" y="1486.1" width="31" height="1" fill="#0000da"/><rect x="297.4" y="1486.1" width="1" height="31" fill="#0000da"/><path d="M328.4 1486.1L328.4 1517.1L297.4 1517.1Z" fill="#0000da"/>
<rect x="358.4" y="1426.7" width="31" height="31" fill="#fff"/><rect x="358.4" y="1426.7" width="31" height="1" fill="#0000da"/><rect x="358.4" y="1426.7" width="1" height="31" fill="#0000da"/><path d="M389.4 1426.7L389.4 1457.7L358.4 1457.7Z" fill="#0000da"/>
<rect x="419.4" y="1372.5" width="31" height="31" fill="#fff"/><rect x="419.4" y="1372.5" width="31" height="1" fill="#0000da"/><rect x="419.4" y="1372.5" width="1" height="31" fill="#0000da"/><path d="M450.4 1372.5L450.4 1403.5L419.4 1403.5Z" fill="#0000da"/>
<rect x="480.5" y="1320.5" width="31" height="31" fill="#fff"/><rect x="480.5" y="1320.5" width="31" height="1" fill="#0000da"/><rect x="480.5" y="1320.5" width="1" height="31" fill="#0000da"/><path d="M511.5 1320.5L511.5 1351.5L480.5 1351.5Z" fill="#0000da"/>
<rect x="541.5" y="1271.7" width="31" height="31" fill="#fff"/><rect x="541.5" y="1271.7" width="31" height="1" fill="#0000da"/><rect x="541.5" y="1271.7" width="1" height="31" fill="#0000da"/><path d="M572.5 1271.7L572.5 1302.7L541.5 1302.7Z" fill="#0000da"/>
<rect x="602.6" y="1224.7" width="31" height="31" fill="#fff"/><rect x="602.6" y="1224.7" width="31" height="1" fill="#0000da"/><rect x="602.6" y="1224.7" width="1" height="31" fill="#0000da"/><path d="M633.6 1224.7L633.6 1255.7L602.6 1255.7Z" fill="#0000da"/>
<rect x="663.6" y="1179.5" width="31" height="31" fill="#fff"/><rect x="663.6" y="1179.5" width="31" height="1" fill="#0000da"/><rect x="663.6" y="1179.5" width="1" height="31" fill="#0000da"/><path d="M694.6 1179.5L694.6 1210.5L663.6 1210.5Z" fill="#0000da"/>
<rect x="724.7" y="1136.5" width="31" height="31" fill="#fff"/><rect x="724.7" y="1136.5" width="31" height="1" fill="#0000da"/><rect x="724.7" y="1136.5" width="1" height="31" fill="#0000da"/><path d="M755.7 1136.5L755.7 1167.5L724.7 1167.5Z" fill="#0000da"/>
<rect x="785.8" y="1094.9" width="31" height="31" fill="#fff"/><rect x="785.8" y="1094.9" width="31" height="1" fill="#0000da"/><rect x="785.8" y="1094.9" width="1" height="31" fill="#0000da"/><path d="M816.8 1094.9L816.8 1125.9L785.8 1125.9Z" fill="#0000da"/>
<rect x="846.8" y="1055.3" width="31" height="31" fill="#fff"/><rect x="846.8" y="1055.3" width="31" height="1" fill="#0000da"/><rect x="846.8" y="1055.3" width="1" height="31" fill="#0000da"/><path d="M877.8 1055.3L877.8 1086.3L846.8 1086.3Z" fill="#0000da"/>
<rect x="907.8" y="1016.9" width="31" height="31" fill="#fff"/><rect x="907.8" y="1016.9" width="31" height="1" fill="#0000da"/><rect x="907.8" y="1016.9" width="1" height="31" fill="#0000da"/><path d="M938.8 1016.9L938.8 1047.9L907.8 1047.9Z" fill="#0000da"/>
<rect x="968.9" y="979.5" width="31" height="31" fill="#fff"/><rect x="968.9" y="979.5" width="31" height="1" fill="#0000da"/><rect x="968.9" y="979.5" width="1" height="31" fill="#0000da"/><path d="M999.9 979.5L999.9 1010.5L968.9 1010.5Z" fill="#0000da"/>
<rect x="1030" y="943.5" width="31" height="31" fill="#fff"/><rect x="1030" y="943.5" width="31" height="1" fill="#0000da"/><rect x="1030" y="943.5" width="1" height="31" fill="#0000da"/><path d="M1061 943.5L1061 974.5L1030 974.5Z" fill="#0000da"/>
<rect x="1091" y="908.5" width="31" height="31" fill="#fff"/><rect x="1091" y="908.5" width="31" height="1" fill="#0000da"/><rect x="1091" y="908.5" width="1" height="31" fill="#0000da"/><path d="M1122 908.5L1122 939.5L1091 939.5Z" fill="#0000da"/>
<rect x="1152" y="874.8" width="31" height="31" fill="#fff"/><rect x="1152" y="874.8" width="31" height="1" fill="#0000da"/><rect x="1152" y="874.8" width="1" height="31" fill="#0000da"/><path d="M1183 874.8L1183 905.8L1152 905.8Z" fill="#0000da"/>
<rect x="1213.1" y="842" width="31" height="31" fill="#fff"/><rect x="1213.1" y="842" width="31" height="1" fill="#0000da"/><rect x="1213.1" y="842" width="1" height="31" fill="#0000da"/><path d="M1244.1 842L1244.1 873L1213.1 873Z" fill="#0000da"/>
<rect x="1274.1" y="810" width="31" height="31" fill="#fff"/><rect x="1274.1" y="810" width="31" height="1" fill="#0000da"/><rect x="1274.1" y="810" width="1" height="31" fill="#0000da"/><path d="M1305.1 810L1305.1 841L1274.1 841Z" fill="#0000da"/>
<rect x="1335.2" y="779" width="31" height="31" fill="#fff"/><rect x="1335.2" y="779" width="31" height="1" fill="#0000da"/><rect x="1335.2" y="779" width="1" height="31" fill="#0000da"/><path d="M1366.2 779L1366.2 810L1335.2 810Z" fill="#0000da"/>
<rect x="1396.2" y="748.5" width="31" height="31" fill="#fff"/><rect x="1396.2" y="748.5" width="1" height="31" fill="#0000da"/><path d="M1427.2 748.5L1427.2 779.5L1396.2 779.5Z" fill="#0000da"/>
<rect x="1457.3" y="718.4" width="31" height="31" fill="#fff"/><rect x="1457.3" y="718.4" width="31" height="1" fill="#0000da"/><path d="M1488.3 718.4L1488.3 749.4L1457.3 749.4Z" fill="#0000da"/>
<rect x="1518.3" y="689.5" width="31" height="31" fill="#fff"/><rect x="1518.3" y="689.5" width="31" height="1" fill="#0000da"/><rect x="1518.3" y="689.5" width="1" height="31" fill="#0000da"/><path d="M1549.3 689.5L1549.3 720.5L1518.3 720.5Z" fill="#0000da"/>
<rect x="1579.4" y="669.5" width="31" height="31" fill="#fff"/><rect x="1579.4" y="669.5" width="31" height="1" fill="#0000da"/><rect x="1579.4" y="669.5" width="1" height="31" fill="#0000da"/><path d="M1610.4 669.5L1610.4 700.5L1579.4 700.5Z" fill="#0000da"/>
<rect x="1640.4" y="642.4" width="31" height="31" fill="#fff"/><rect x="1640.4" y="642.4" width="31" height="1" fill="#0000da"/><rect x="1640.4" y="642.4" width="1" height="31" fill="#0000da"/><path d="M1671.4 642.4L1671.4 673.4L1640.4 673.4Z" fill="#0000da"/>
<rect x="1701.5" y="615.6" width="31" height="31" fill="#fff"/><rect x="1701.5" y="615.6" width="31" height="1" fill="#0000da"/><path d="M1732.5 615.6L1732.5 646.6L1701.5 646.6Z" fill="#0000da"/>
<rect x="1736" y="599.9" width="31" height="31" fill="#fff"/><path d="M1767 599.9L1767 630.9L1736 630.9Z" fill="#0000da"/>
<rect x="1736" y="601.5" width="31" height="31" fill="#fff"/><rect x="1736" y="601.5" width="31" height="1" fill="#0000da"/><path d="M1767 601.5L1767 632.5L1736 632.5Z" fill="#0000da"/>
<rect x="1694.4" y="618.5" width="31" height="31" fill="#fff"/><rect x="1694.4" y="618.5" width="31" height="1" fill="#0000da"/><path d="M1725.4 618.5L1725.4 649.5L1694.4 649.5Z" fill="#0000da"/>
<rect x="1633.5" y="644.4" width="31" height="31" fill="#fff"/><rect x="1633.5" y="644.4" width="31" height="1" fill="#0000da"/><rect x="1633.5" y="644.4" width="1" height="31" fill="#0000da"/><path d="M1664.5 644.4L1664.5 675.4L1633.5 675.4Z" fill="#0000da"/>
<rect x="1572.5" y="671.8" width="31" height="31" fill="#fff"/><rect x="1572.5" y="671.8" width="31" height="1" fill="#0000da"/><rect x="1572.5" y="671.8" width="1" height="31" fill="#0000da"/><path d="M1603.5 671.8L1603.5 702.8L1572.5 702.8Z" fill="#0000da"/>
<rect x="1511.5" y="699.4" width="31" height="31" fill="#fff"/><rect x="1511.5" y="699.4" width="1" height="31" fill="#0000da"/><path d="M1542.5 699.4L1542.5 730.4L1511.5 730.4Z" fill="#0000da"/>
<rect x="1450.6" y="728.2" width="31" height="31" fill="#fff"/><path d="M1481.6 728.2L1481.6 759.2L1450.6 759.2Z" fill="#0000da"/>
<rect x="1389.6" y="757.3" width="31" height="31" fill="#fff"/><rect x="1389.6" y="757.3" width="1" height="31" fill="#0000da"/><path d="M1420.6 757.3L1420.6 788.3L1389.6 788.3Z" fill="#0000da"/>
<rect x="1328.7" y="788" width="31" height="31" fill="#fff"/><rect x="1328.7" y="788" width="31" height="1" fill="#0000da"/><rect x="1328.7" y="788" width="1" height="31" fill="#0000da"/><path d="M1359.7 788L1359.7 819L1328.7 819Z" fill="#0000da"/>
<rect x="1267.8" y="818" width="31" height="31" fill="#fff"/><rect x="1267.8" y="818" width="31" height="1" fill="#0000da"/><rect x="1267.8" y="818" width="1" height="31" fill="#0000da"/><path d="M1298.8 818L1298.8 849L1267.8 849Z" fill="#0000da"/>
<rect x="1206.8" y="849.9" width="31" height="31" fill="#fff"/><rect x="1206.8" y="849.9" width="31" height="1" fill="#0000da"/><rect x="1206.8" y="849.9" width="1" height="31" fill="#0000da"/><path d="M1237.8 849.9L1237.8 880.9L1206.8 880.9Z" fill="#0000da"/>
<rect x="1145.8" y="882.4" width="31" height="31" fill="#fff"/><rect x="1145.8" y="882.4" width="31" height="1" fill="#0000da"/><rect x="1145.8" y="882.4" width="1" height="31" fill="#0000da"/><path d="M1176.8 882.4L1176.8 913.4L1145.8 913.4Z" fill="#0000da"/>
<rect x="1084.9" y="916.2" width="31" height="31" fill="#fff"/><rect x="1084.9" y="916.2" width="31" height="1" fill="#0000da"/><rect x="1084.9" y="916.2" width="1" height="31" fill="#0000da"/><path d="M1115.9 916.2L1115.9 947.2L1084.9 947.2Z" fill="#0000da"/>
<rect x="1024" y="950.9" width="31" height="31" fill="#fff"/><rect x="1024" y="950.9" width="31" height="1" fill="#0000da"/><rect x="1024" y="950.9" width="1" height="31" fill="#0000da"/><path d="M1055 950.9L1055 981.9L1024 981.9Z" fill="#0000da"/>
<rect x="963" y="980.7" width="31" height="31" fill="#fff"/><rect x="963" y="980.7" width="31" height="1" fill="#0000da"/><rect x="963" y="980.7" width="1" height="31" fill="#0000da"/><path d="M994 980.7L994 1011.7L963 1011.7Z" fill="#0000da"/>
<rect x="902.1" y="1018.7" width="31" height="31" fill="#fff"/><rect x="902.1" y="1018.7" width="31" height="1" fill="#0000da"/><path d="M933.1 1018.7L933.1 1049.7L902.1 1049.7Z" fill="#0000da"/>
<rect x="841.1" y="1056.9" width="31" height="31" fill="#fff"/><rect x="841.1" y="1056.9" width="31" height="1" fill="#0000da"/><rect x="841.1" y="1056.9" width="1" height="31" fill="#0000da"/><path d="M872.1 1056.9L872.1 1087.9L841.1 1087.9Z" fill="#0000da"/>
<rect x="780.2" y="1097.1" width="31" height="31" fill="#fff"/><rect x="780.2" y="1097.1" width="31" height="1" fill="#0000da"/><rect x="780.2" y="1097.1" width="1" height="31" fill="#0000da"/><path d="M811.2 1097.1L811.2 1128.1L780.2 1128.1Z" fill="#0000da"/>
<rect x="719.2" y="1138.5" width="31" height="31" fill="#fff"/><rect x="719.2" y="1138.5" width="31" height="1" fill="#0000da"/><rect x="719.2" y="1138.5" width="1" height="31" fill="#0000da"/><path d="M750.2 1138.5L750.2 1169.5L719.2 1169.5Z" fill="#0000da"/>
<rect x="658.2" y="1181.6" width="31" height="31" fill="#fff"/><rect x="658.2" y="1181.6" width="31" height="1" fill="#0000da"/><path d="M689.2 1181.6L689.2 1212.6L658.2 1212.6Z" fill="#0000da"/>
<rect x="597.3" y="1227" width="31" height="31" fill="#fff"/><rect x="597.3" y="1227" width="31" height="1" fill="#0000da"/><rect x="597.3" y="1227" width="1" height="31" fill="#0000da"/><path d="M628.3 1227L628.3 1258L597.3 1258Z" fill="#0000da"/>
<rect x="536.4" y="1274.5" width="31" height="31" fill="#fff"/><rect x="536.4" y="1274.5" width="31" height="1" fill="#0000da"/><rect x="536.4" y="1274.5" width="1" height="31" fill="#0000da"/><path d="M567.4 1274.5L567.4 1305.5L536.4 1305.5Z" fill="#0000da"/>
<rect x="475.4" y="1324" width="31" height="31" fill="#fff"/><rect x="475.4" y="1324" width="31" height="1" fill="#0000da"/><rect x="475.4" y="1324" width="1" height="31" fill="#0000da"/><path d="M506.4 1324L506.4 1355L475.4 1355Z" fill="#0000da"/>
<rect x="414.5" y="1377.1" width="31" height="31" fill="#fff"/><rect x="414.5" y="1377.1" width="31" height="1" fill="#0000da"/><path d="M445.5 1377.1L445.5 1408.1L414.5 1408.1Z" fill="#0000da"/>
<rect x="353.5" y="1432.6" width="31" height="31" fill="#fff"/><rect x="353.5" y="1432.6" width="31" height="1" fill="#0000da"/><path d="M384.5 1432.6L384.5 1463.6L353.5 1463.6Z" fill="#0000da"/>
<rect x="292.6" y="1492.1" width="31" height="31" fill="#fff"/><rect x="292.6" y="1492.1" width="31" height="1" fill="#0000da"/><rect x="292.6" y="1492.1" width="1" height="31" fill="#0000da"/><path d="M323.6 1492.1L323.6 1523.1L292.6 1523.1Z" fill="#0000da"/>
<rect x="231.1" y="1555.1" width="31" height="31" fill="#fff"/><rect x="231.1" y="1555.1" width="31" height="1" fill="#0000da"/><rect x="231.1" y="1555.1" width="1" height="31" fill="#0000da"/><path d="M262.1 1555.1L262.1 1586.1L231.1 1586.1Z" fill="#0000da"/>
</g>
<g id="arrows" shape-rendering="crispEdges">
<path d="M1206.3 577.9L1404.7 456.7L1387.2 451.2L1437.2 440.9L1405.3 480.7L1408.3 462.7L1209.9 583.9Z" fill="#000000"/>
<path d="M1449.7 536.5L1267.9 650L1285.4 655.3L1235.5 666.1L1267 626L1264.2 644.1L1445.9 530.5Z" fill="#000000"/>
<path d="M1394.4 1414.5L1596.2 1389.5L1582.6 1377.3L1632.4 1388.6L1586.9 1411.7L1597.1 1396.5L1395.2 1421.5Z" fill="#000000"/>
<path d="M1632.5 1504.8L1459 1524.4L1472.4 1536.8L1422.8 1525L1468.5 1502.4L1458.2 1517.5L1631.7 1497.8Z" fill="#000000"/>
</g>
</svg></body></html>
